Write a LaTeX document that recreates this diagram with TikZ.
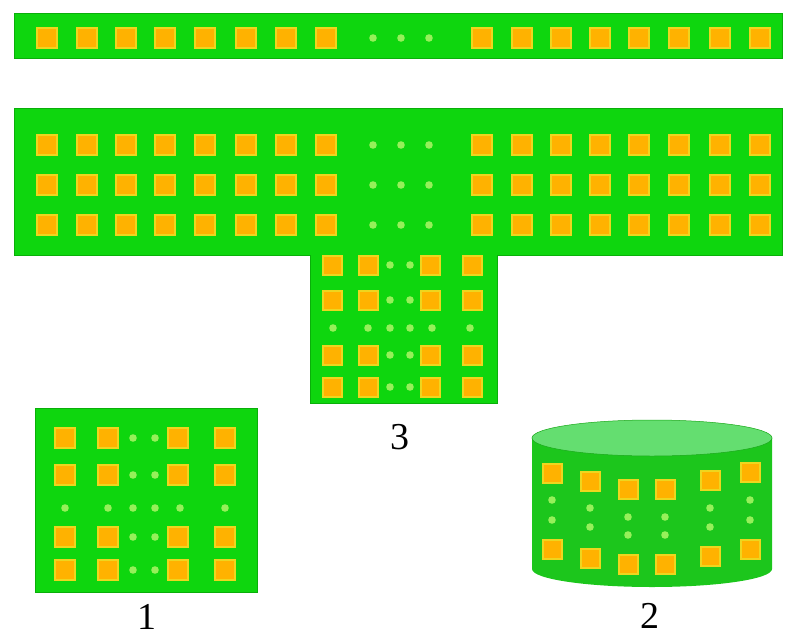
\documentclass[tikz,border=0pt]{standalone}
\usepackage{fontspec}
\setmainfont{Liberation Serif}
\definecolor{pcbgreen}{RGB}{14,214,14}
\definecolor{pcbedge}{RGB}{10,175,10}
\definecolor{padorange}{RGB}{255,178,0}
\definecolor{padyellow}{RGB}{238,214,30}
\definecolor{vialight}{RGB}{150,240,90}
\definecolor{cyltop}{RGB}{100,222,112}
\definecolor{cylbody}{RGB}{28,198,28}
\tikzset{
  body/.style={fill=pcbgreen, draw=pcbedge, line width=1pt},
  pad/.style={fill=padorange, draw=padyellow, line width=2pt},
  via/.style={fill=vialight},
  numlabel/.style={font=\fontsize{38}{42}\selectfont, inner sep=0pt},
}
\newcommand\padat[3]{\filldraw[pad] ({#1-#3/2+1},{-#2-#3/2+1}) rectangle ({#1+#3/2-1},{-#2+#3/2-1});}
\newcommand\viaat[2]{\fill[via] (#1,-#2) circle[radius=3.8];}
\begin{document}
\begin{tikzpicture}[x=1pt,y=1pt]
\useasboundingbox (0,0) rectangle (788,-640);
% ---- top strip
\filldraw[body] (14,-13) rectangle (782,-58);
\foreach \x in {47,87,126,165,205,246,286,326,482,522,561,600,639,679,720,760}{\padat{\x}{38}{22}}
\foreach \x in {373,401,429}{\viaat{\x}{38}}
% ---- T block (3)
\filldraw[body] (14,-108) -- (782,-108) -- (782,-255) -- (497,-255) -- (497,-403) -- (310,-403) -- (310,-255) -- (14,-255) -- cycle;
\foreach \y in {145,185,225}{
  \foreach \x in {47,87,126,165,205,246,286,326,482,522,561,600,639,679,720,760}{\padat{\x}{\y}{22}}
  \foreach \x in {373,401,429}{\viaat{\x}{\y}}
}
\foreach \y in {265,300,355,387}{
  \foreach \x in {332,368,430,472}{\padat{\x}{\y}{21}}
  \foreach \x in {390,410}{\viaat{\x}{\y}}
}
\foreach \x in {333,368,390,410,432,470}{\viaat{\x}{328}}
\node[numlabel] (l3) at (400,-437) {3};
% ---- block 1
\filldraw[body] (35,-408) rectangle (257,-592);
\foreach \y in {438,475,537,570}{
  \foreach \x in {65,108,178,225}{\padat{\x}{\y}{22}}
  \foreach \x in {133,155}{\viaat{\x}{\y}}
}
\foreach \x in {65,108,133,155,180,225}{\viaat{\x}{508}}
\node[numlabel] (l1) at (147,-617) {1};
% ---- cylinder 2
\fill[cylbody] (532,-438) -- (532,-569) arc[start angle=180,end angle=360,x radius=120,y radius=18] -- (772,-438) -- cycle;
\filldraw[fill=cyltop, draw=cylbody!85!black, line width=0.5pt] (652,-438) ellipse[x radius=120, y radius=18];
\padat{552}{473}{21}\padat{590}{481}{21}\padat{628}{489}{21}
\padat{665}{489}{21}\padat{710}{480}{21}\padat{750}{472}{21}
\padat{552}{549}{21}\padat{590}{558}{21}\padat{628}{564}{21}
\padat{665}{564}{21}\padat{710}{556}{21}\padat{750}{549}{21}
\viaat{552}{500}\viaat{552}{520}
\viaat{590}{508}\viaat{590}{527}
\viaat{628}{517}\viaat{628}{535}
\viaat{665}{517}\viaat{665}{535}
\viaat{710}{508}\viaat{710}{527}
\viaat{750}{500}\viaat{750}{520}
\node[numlabel] (l2) at (650,-616) {2};
\end{tikzpicture}
\end{document}
